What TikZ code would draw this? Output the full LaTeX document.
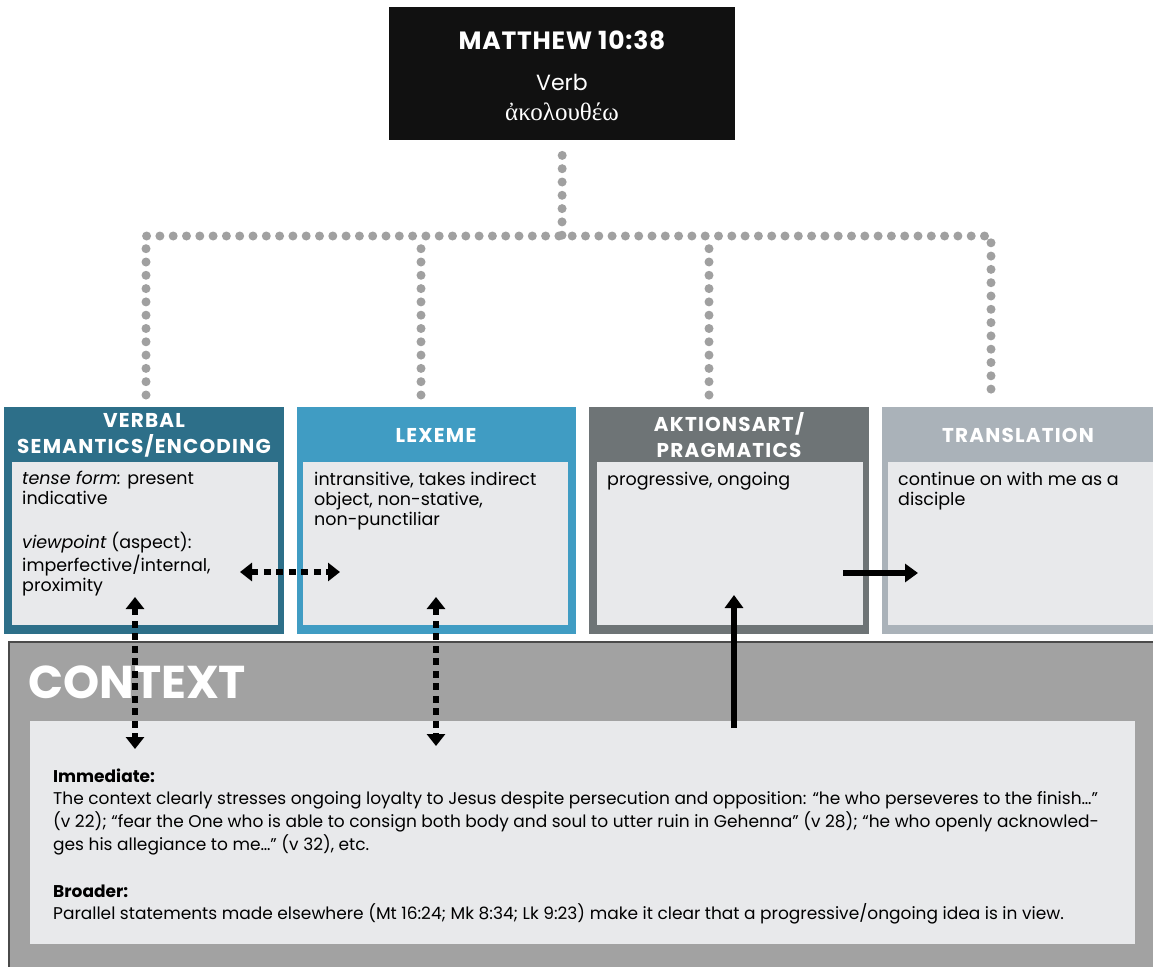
\documentclass[tikz,border=0pt]{standalone}
\usepackage{fontspec}
\setmainfont{Poppins}
\newfontfamily\greekfont{Liberation Serif}
\usetikzlibrary{arrows.meta}

\definecolor{cTop}{HTML}{111111}
\definecolor{cVerbal}{HTML}{2D6F89}
\definecolor{cLexeme}{HTML}{409CC3}
\definecolor{cAktion}{HTML}{6E7476}
\definecolor{cTrans}{HTML}{AAB2B9}
\definecolor{cInner}{HTML}{E8E9EB}
\definecolor{cContext}{HTML}{A2A2A2}
\definecolor{cContextLine}{HTML}{4A4A4A}
\definecolor{cDots}{HTML}{A0A0A0}

\begin{document}
\begin{tikzpicture}[x=1pt,y=-1pt,
  panel/.style={anchor=north west, inner sep=0, outer sep=0, minimum width=#1, minimum height=227},
  innerpanel/.style={anchor=north west, inner sep=0, outer sep=0, fill=cInner, minimum width=#1, minimum height=163},
  hdr/.style={text=white, font=\bfseries\fontsize{20}{26}\selectfont\addfontfeature{LetterSpace=6}, align=center, inner sep=0},
  % multi-line text: the base anchor sits on the last line
  bodytext/.style={anchor=base west, inner sep=0, align=left, font=\fontsize{17.5}{20}\selectfont},
  ctxtext/.style={anchor=base west, inner sep=0, font=\fontsize{17}{23}\selectfont},
  busline/.style={draw=cDots, line width=9, dash pattern=on 0pt off 13.3pt, line cap=round},
  dotarrow/.style={line width=6.5, dash pattern=on 7pt off 5.5pt, {Triangle[width=18pt,length=12pt]}-{Triangle[width=18pt,length=12pt]}},
  solidarrow/.style={line width=6.5, -{Triangle[width=18pt,length=13pt]}},
]
\clip (0,0) rectangle (1153,966);
\fill[white] (0,0) rectangle (1153,966);

% title block
\node[fill=cTop, anchor=north west, inner sep=0, minimum width=346, minimum height=133] (top) at (389,7) {};
\node[text=white, font=\bfseries\fontsize{25}{28}\selectfont\addfontfeature{LetterSpace=3}, inner sep=0] (ttl) at (562,40) {MATTHEW 10:38};
\node[text=white, font=\fontsize{22}{26}\selectfont, inner sep=0] (verb) at (562,82) {Verb};
\node[text=white, font=\greekfont\fontsize{25}{28}\selectfont, inner sep=0] (greek) at (562,112) {ἀκολουθέω};

% four panels
\node[panel=280, fill=cVerbal] (verbal) at (4,407) {};
\node[innerpanel=266] (verbalin) at (12,462) {};
\node[hdr] (verbalhdr) at (144,435) {VERBAL\\SEMANTICS/ENCODING};
\node[bodytext] (verbaltxt) at (22,591) {\textit{tense form:} present\\indicative\\[24pt]\textit{viewpoint} (aspect):\\imperfective/internal,\\proximity};

\node[panel=279, fill=cLexeme] (lexeme) at (297,407) {};
\node[innerpanel=265] (lexemein) at (303,462) {};
\node[hdr] (lexemehdr) at (436,435) {LEXEME};
\node[bodytext] (lexemetxt) at (314,525) {intransitive, takes indirect\\object, non-stative,\\non-punctiliar};

\node[panel=280, fill=cAktion] (aktion) at (589,407) {};
\node[innerpanel=266] (aktionin) at (597,462) {};
\node[hdr] (aktionhdr) at (729,435) {AKTIONSART/\\PRAGMATICS};
\node[bodytext] (aktiontxt) at (607,485) {progressive, ongoing};

\node[panel=290, fill=cTrans] (trans) at (882,407) {};
\node[innerpanel=280] (transin) at (888,462) {};
\node[hdr] (transhdr) at (1018,435) {TRANSLATION};
\node[bodytext] (transtxt) at (898,505) {continue on with me as a\\disciple};

% dotted tree from the title block to the panels
\coordinate (bus) at (562,236);
\coordinate (d1) at ([xshift=2,yshift=12]verbal.north);
\coordinate (d2) at ([xshift=-15.5,yshift=12]lexeme.north);
\coordinate (d3) at ([xshift=-20,yshift=12]aktion.north);
\coordinate (d4) at ([xshift=-36,yshift=12]trans.north);
\draw[busline] ([yshift=-15]top.south) -- (bus);
\draw[busline] (d1) |- (bus) -| (d4);
\draw[busline] (d2) -- (d2 |- bus);
\draw[busline] (d3) -- (d3 |- bus);

% context block
\node[anchor=north west, inner sep=0, fill=cContext, draw=cContextLine, line width=1.5, minimum width=1160, minimum height=340] (context) at (8,641) {};
\node[anchor=west, inner sep=0, text=white, font=\bfseries\fontsize{46}{50}\selectfont] (ctxtitle) at (28,682) {CONTEXT};
\node[anchor=north west, inner sep=0, fill=cInner, minimum width=1105, minimum height=223] (contextin) at (30,721) {};
\node[ctxtext] (imm) at (53,782) {\textbf{Immediate:}};
\node[ctxtext] (imm1) at (53,804) {The context clearly stresses ongoing loyalty to Jesus despite persecution and opposition: “he who perseveres to the finish…”};
\node[ctxtext] (imm2) at (53,827) {(v 22); “fear the One who is able to consign both body and soul to utter ruin in Gehenna” (v 28); “he who openly acknowled-};
\node[ctxtext] (imm3) at (53,850) {ges his allegiance to me…” (v 32), etc.};
\node[ctxtext] (brd) at (53,897) {\textbf{Broader:}};
\node[ctxtext] (brd1) at (53,919) {Parallel statements made elsewhere (Mt 16:24; Mk 8:34; Lk 9:23) make it clear that a progressive/ongoing idea is in view.};

% arrows between panels and context
\coordinate (aL) at (240,572);
\coordinate (aR) at (340,572);
\coordinate (bT) at (135,597);
\coordinate (bB) at (135,749);
\coordinate (cT) at (436,597);
\coordinate (cB) at (436,746);
\coordinate (eB) at (734,728);
\coordinate (eT) at (734,595);
\coordinate (fL) at (843,573);
\coordinate (fR) at (918,573);
\draw[dotarrow] (aL) -- (aR);
\draw[dotarrow] (bT) -- (bB);
\draw[dotarrow] (cT) -- (cB);
\draw[solidarrow] (eB) -- (eT);
\draw[solidarrow] (fL) -- (fR);
\end{tikzpicture}
\end{document}
